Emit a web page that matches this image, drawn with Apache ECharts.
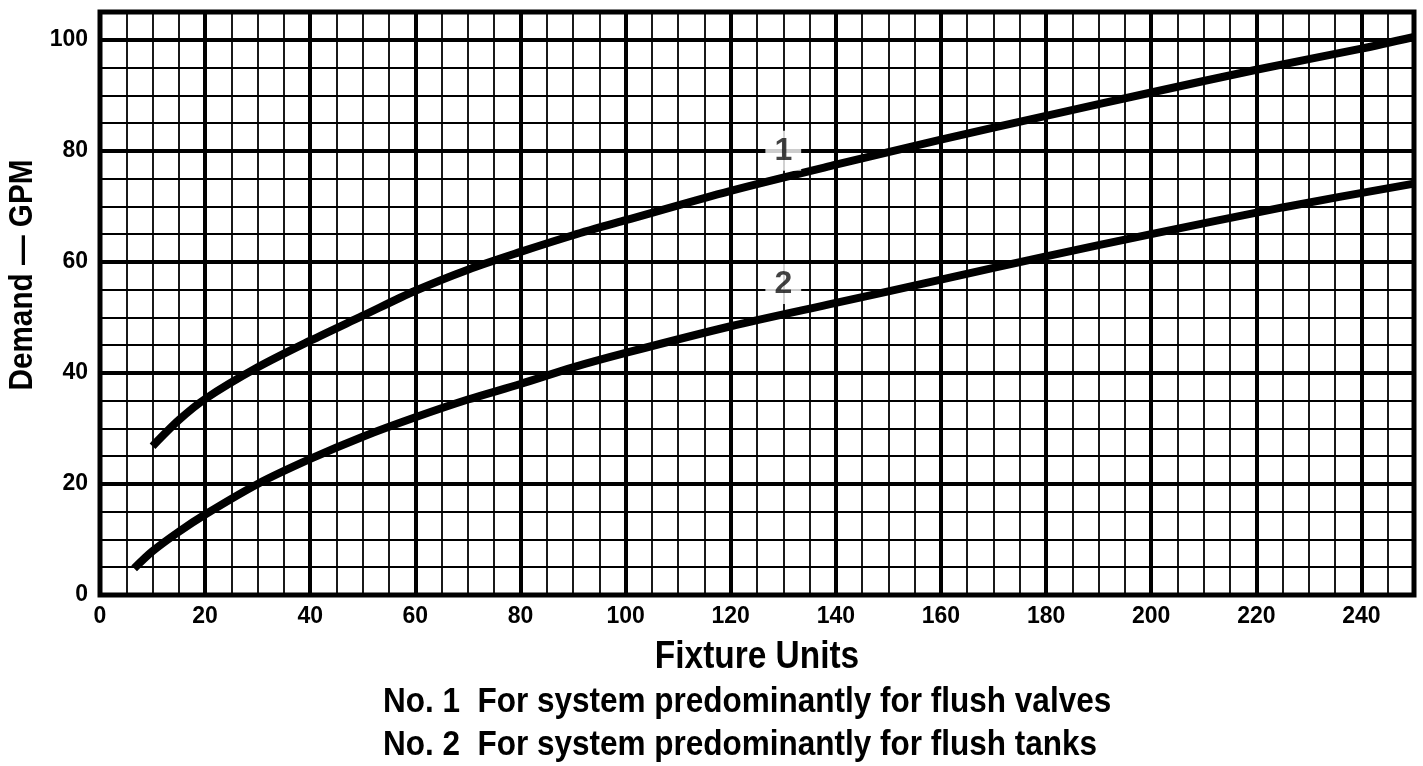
<!DOCTYPE html>
<html>
<head>
<meta charset="utf-8">
<script src="https://cdn.jsdelivr.net/npm/echarts@6/dist/echarts.min.js"></script>
<style>
  html, body { margin: 0; padding: 0; background: #fff; }
  #chart { width: 1423px; height: 766px; }
</style>
</head>
<body>
<div id="chart"></div>
<script>
// Curve No. 1 - flush valves
var fixtureUnits1 = [10, 15, 20, 30, 40, 50, 60, 70, 80, 90, 100, 120, 140, 160, 180, 200, 220, 240, 250];
var demand1 = [26.8, 31.5, 35.3, 41, 45.8, 50.3, 54.8, 58.6, 61.8, 64.8, 67.5, 72.8, 77.5, 82, 86.3, 90.5, 94.6, 98.4, 100.5];
// Curve No. 2 - flush tanks
var fixtureUnits2 = [6.5, 10, 15, 20, 30, 40, 50, 60, 70, 80, 90, 100, 120, 140, 160, 180, 200, 225, 250];
var demand2 = [4.8, 7.9, 11.4, 14.5, 20, 24.5, 28.5, 32, 35.2, 38, 41, 43.6, 48.4, 52.6, 56.8, 61, 65, 69.8, 74.1];
// curve tags
var tagNames = ['1', '2'];
var tagX = [130, 130];
var tagY = [80, 56];

var xTitle = 'Fixture Units';
var yTitle = 'Demand \u2014 GPM';
var captions = [
  'No. 1  For system predominantly for flush valves',
  'No. 2  For system predominantly for flush tanks'
];

var sans = '"Liberation Sans", Arial, Helvetica, sans-serif';

function pairs(xs, ys) {
  return xs.map(function (x, i) { return [x, ys[i]]; });
}

var chart = echarts.init(document.getElementById('chart'));

var option = {
  animation: false,
  backgroundColor: '#fff',
  grid: {
    left: 100, right: 9, top: 12, bottom: 171,
    show: true, borderColor: '#000', borderWidth: 5, backgroundColor: 'transparent'
  },
  xAxis: [
    {
      type: 'value', min: 0, max: 250, interval: 20, position: 'bottom',
      axisLine: { show: false }, axisTick: { show: false },
      axisLabel: { showMaxLabel: false, margin: 10, color: '#000', fontSize: 23, fontWeight: 'bold', fontFamily: sans },
      splitLine: { lineStyle: { color: '#000', width: 4 } }
    },
    {
      type: 'value', min: 0, max: 250, interval: 5, position: 'top',
      axisLine: { show: false }, axisTick: { show: false }, axisLabel: { show: false },
      splitLine: { lineStyle: { color: '#000', width: 1.8 } }
    }
  ],
  yAxis: [
    {
      type: 'value', min: 0, max: 105, interval: 20, position: 'left',
      axisLine: { show: false }, axisTick: { show: false },
      axisLabel: { showMaxLabel: false, margin: 12, color: '#000', fontSize: 23, fontWeight: 'bold', fontFamily: sans },
      splitLine: { lineStyle: { color: '#000', width: 4 } }
    },
    {
      type: 'value', min: 0, max: 105, interval: 5, position: 'right',
      axisLine: { show: false }, axisTick: { show: false }, axisLabel: { show: false },
      splitLine: { lineStyle: { color: '#000', width: 1.8 } }
    }
  ],
  series: [
    {
      name: 'No. 1', type: 'line', smooth: 0.3, showSymbol: false,
      xAxisIndex: 0, yAxisIndex: 0,
      lineStyle: { color: '#000', width: 8, cap: 'butt' },
      data: pairs(fixtureUnits1, demand1), z: 5
    },
    {
      name: 'No. 2', type: 'line', smooth: 0.3, showSymbol: false,
      xAxisIndex: 0, yAxisIndex: 0,
      lineStyle: { color: '#000', width: 8, cap: 'butt' },
      data: pairs(fixtureUnits2, demand2), z: 5
    },
    {
      type: 'scatter', symbolSize: 0, xAxisIndex: 0, yAxisIndex: 0, z: 6,
      data: tagNames.map(function (n, i) { return [tagX[i], tagY[i], n]; }),
      label: {
        show: true, position: 'inside',
        formatter: function (p) { return p.value[2]; },
        backgroundColor: '#fff', padding: [4, 9],
        color: '#111', fontSize: 32, fontWeight: 'bold', fontFamily: sans
      }
    }
  ],
  graphic: [
    {
      type: 'text', x: 757, y: 677, scaleX: 0.88,
      style: { text: xTitle, fill: '#000', font: 'bold 38px ' + sans, textAlign: 'center', textVerticalAlign: 'bottom' }
    },
    {
      type: 'text', x: 383, y: 720, scaleX: 0.9,
      style: { text: captions[0], fill: '#000', font: 'bold 35px ' + sans, textAlign: 'left', textVerticalAlign: 'bottom' }
    },
    {
      type: 'text', x: 383, y: 763, scaleX: 0.9,
      style: { text: captions[1], fill: '#000', font: 'bold 35px ' + sans, textAlign: 'left', textVerticalAlign: 'bottom' }
    },
    {
      type: 'text', x: 23, y: 275, rotation: Math.PI / 2, scaleX: 0.9,
      style: { text: yTitle, fill: '#000', font: 'bold 33px ' + sans, textAlign: 'center', textVerticalAlign: 'middle' }
    }
  ]
};

chart.setOption(option);
</script>
</body>
</html>
